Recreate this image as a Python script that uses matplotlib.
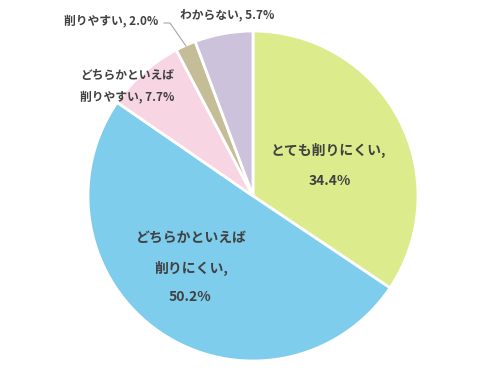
import matplotlib.pyplot as plt

plt.rcParams['font.family'] = ['Noto Sans CJK JP', 'DejaVu Sans']

labels = ['とても削りにくい', 'どちらかといえば\n削りにくい', 'どちらかといえば\n削りやすい', '削りやすい', 'わからない']
values = [34.4, 50.2, 7.7, 2.0, 5.7]
colors = ['#dcec8c', '#7ecdec', '#f8d5e2', '#c4bd97', '#cdc2dc']

fig = plt.figure(figsize=(4.9, 3.76), dpi=100)
ax = fig.add_axes([0, 0, 1, 1])

H = 376
ax.pie(values, colors=colors, startangle=90, counterclock=False,
       center=(253, H - 196), radius=165,
       wedgeprops=dict(edgecolor='white', linewidth=2))
ax.set_xlim(0, 490)
ax.set_ylim(0, 376)
ax.set_aspect('equal')
ax.axis('off')

tc = '#404040'
# inside labels
ax.text(328, H - 150, 'とても削りにくい,', ha='center', va='center', fontsize=10, fontweight='bold', color=tc)
ax.text(330, H - 181, '34.4%', ha='center', va='center', fontsize=10, fontweight='bold', color=tc)
ax.text(191, H - 238, 'どちらかといえば', ha='center', va='center', fontsize=10, fontweight='bold', color=tc)
ax.text(191, H - 268, '削りにくい,', ha='center', va='center', fontsize=10, fontweight='bold', color=tc)
ax.text(190, H - 297, '50.2%', ha='center', va='center', fontsize=10, fontweight='bold', color=tc)

# outside labels
ax.text(127, H - 75, 'どちらかといえば', ha='center', va='center', fontsize=8.5, fontweight='bold', color=tc)
ax.text(127, H - 97, '削りやすい, 7.7%', ha='center', va='center', fontsize=8.5, fontweight='bold', color=tc)
ax.text(111, H - 21, '削りやすい, 2.0%', ha='center', va='center', fontsize=8.5, fontweight='bold', color=tc)
ax.text(227, H - 15, 'わからない, 5.7%', ha='center', va='center', fontsize=8.5, fontweight='bold', color=tc)
ax.plot([164, 170, 186], [H - 23, H - 23, H - 46], color='#a6a6a6', linewidth=0.8)

fig.savefig('out.png', dpi=100)
